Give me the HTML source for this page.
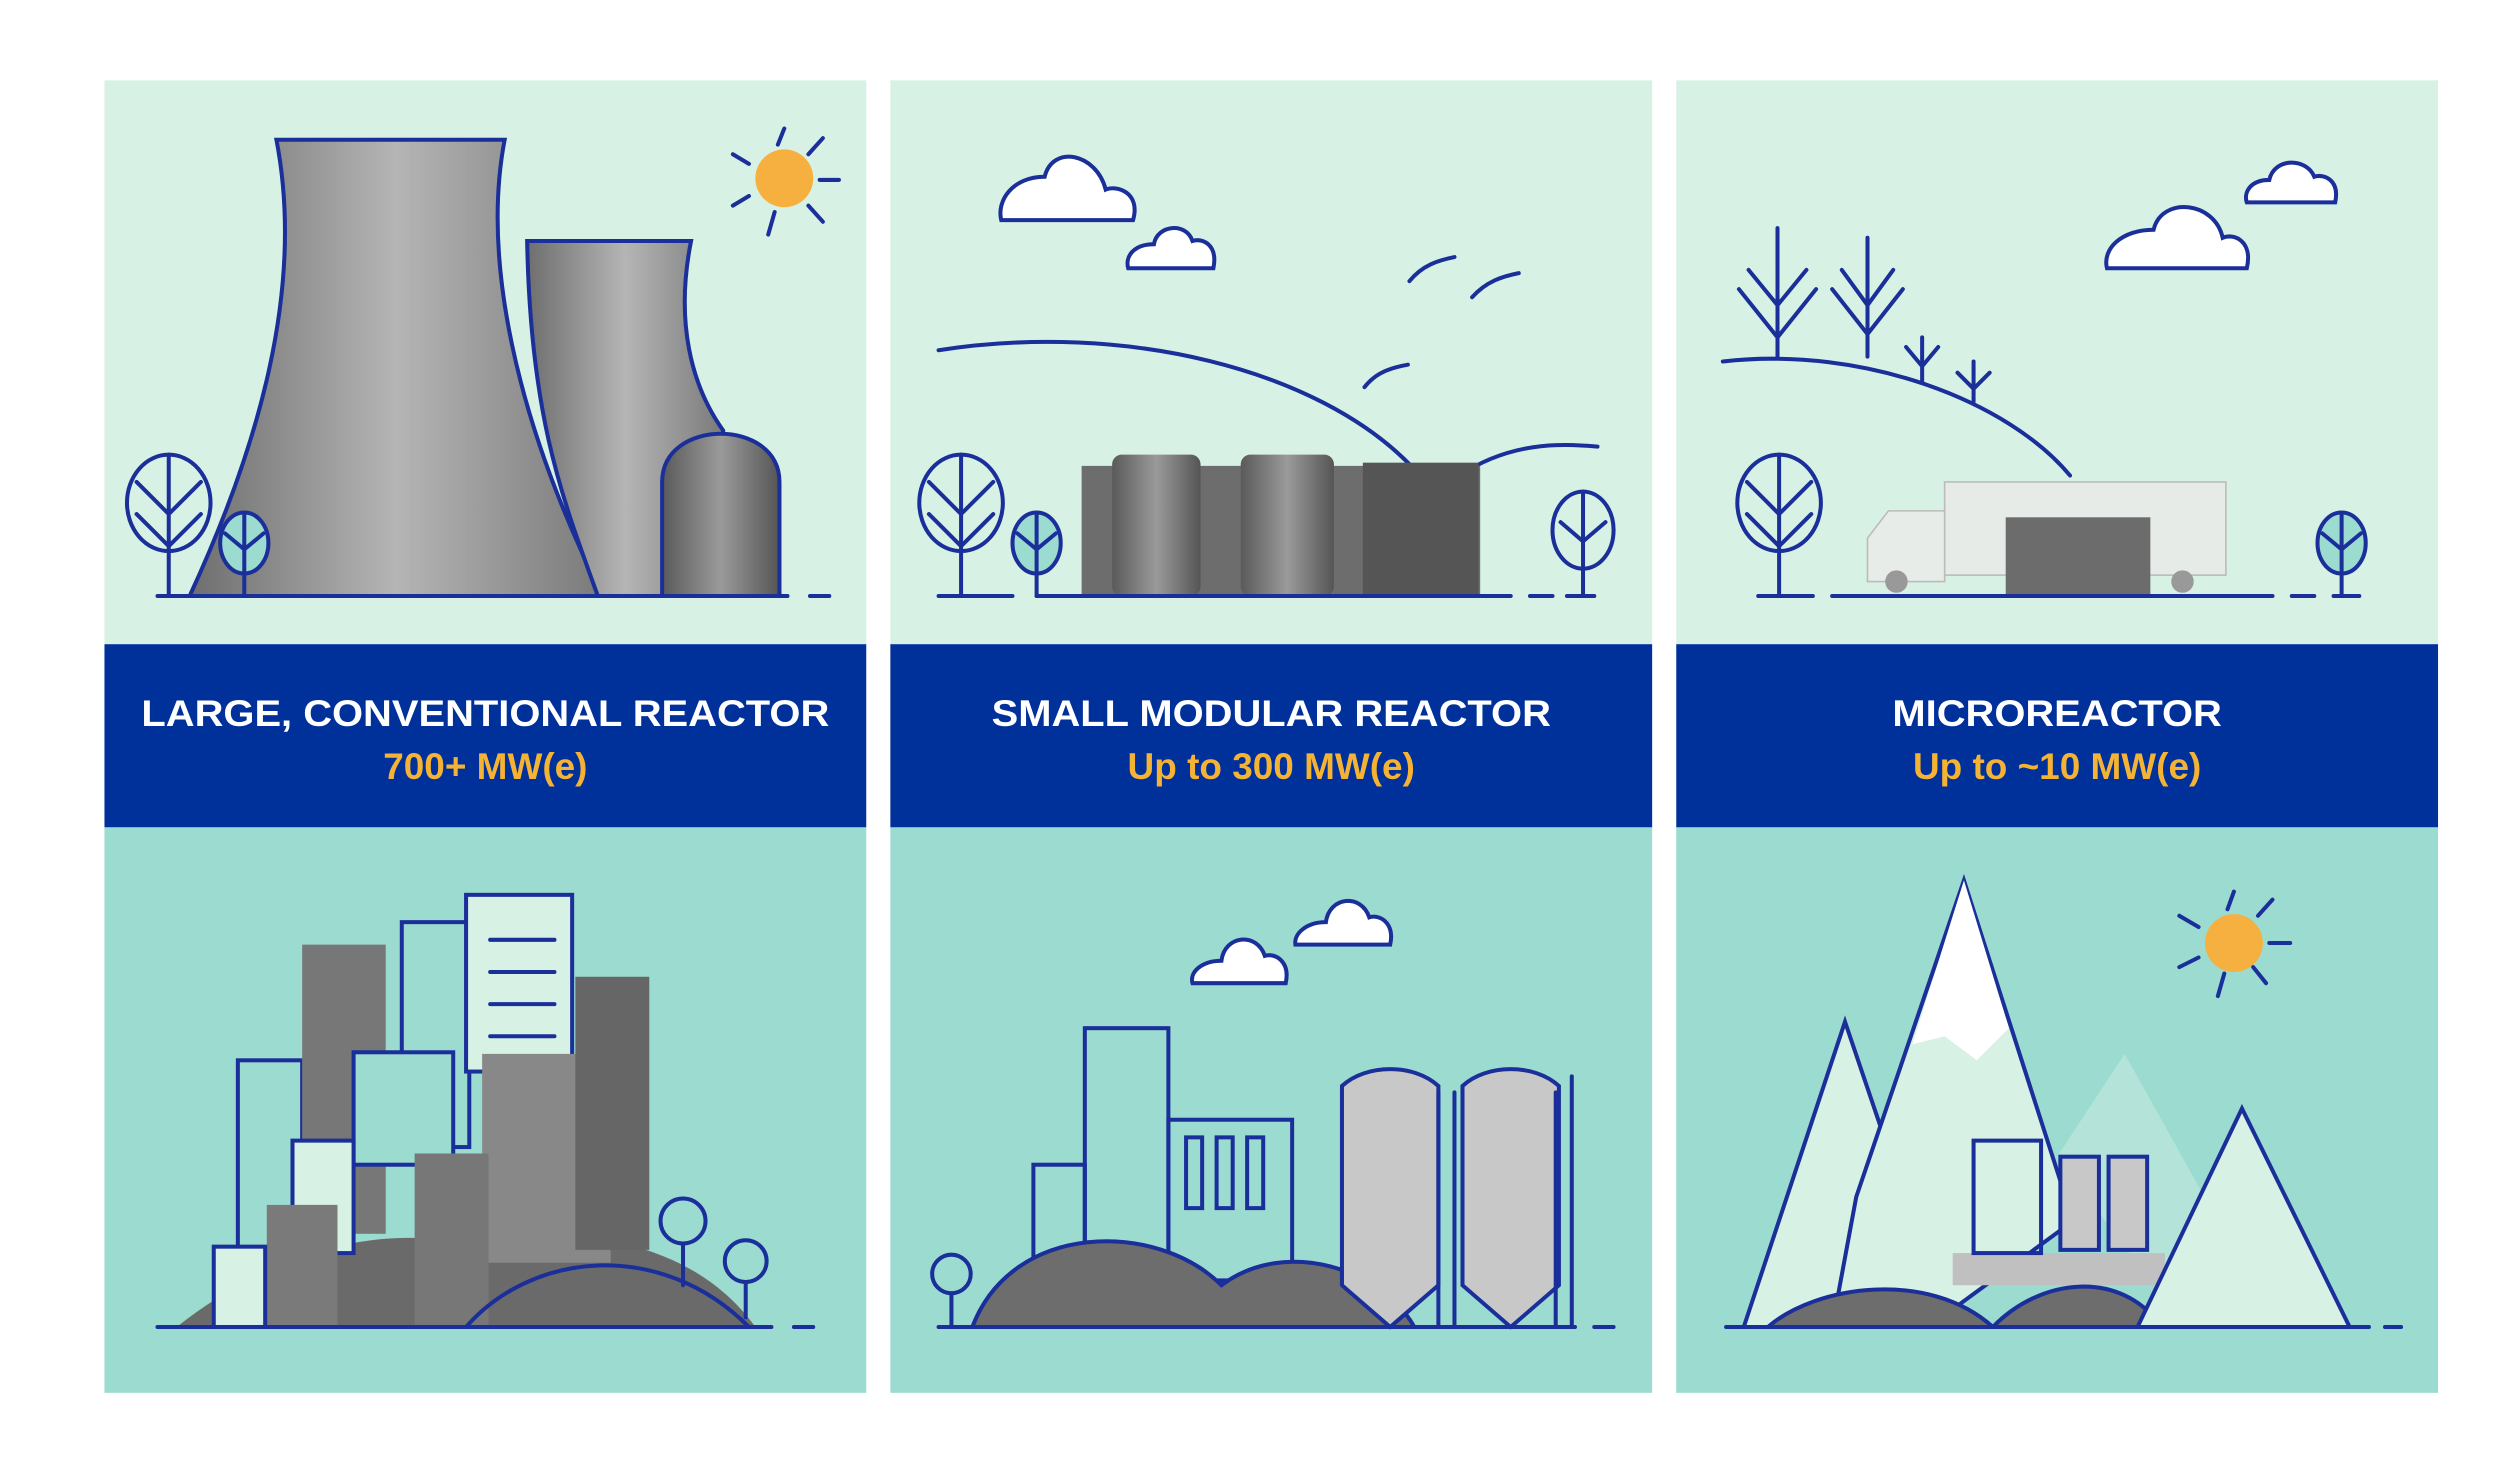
<!DOCTYPE html>
<html><head><meta charset="utf-8"><style>
html,body{margin:0;padding:0;background:#fff;}
svg{display:block}
</style></head><body>
<svg width="2520" height="1478" viewBox="0 0 1568 920" preserveAspectRatio="none" xmlns="http://www.w3.org/2000/svg">
<defs>
<linearGradient id="g1" x1="0" x2="1"><stop offset="0" stop-color="#6e6e6e"/><stop offset=".5" stop-color="#b5b5b5"/><stop offset="1" stop-color="#7a7a7a"/></linearGradient>
<linearGradient id="g2" x1="0" x2="1"><stop offset="0" stop-color="#5a5a5a"/><stop offset=".5" stop-color="#9a9a9a"/><stop offset="1" stop-color="#555"/></linearGradient>
</defs>
<rect width="1568" height="920" fill="#fff"/>
<!-- panels -->
<g>
<rect x="65" y="50" width="474" height="352" fill="#d8f1e5"/>
<rect x="554" y="50" width="474" height="352" fill="#d8f1e5"/>
<rect x="1043" y="50" width="474" height="352" fill="#d8f1e5"/>
<rect x="65" y="401" width="474" height="114" fill="#00309a"/>
<rect x="554" y="401" width="474" height="114" fill="#00309a"/>
<rect x="1043" y="401" width="474" height="114" fill="#00309a"/>
<rect x="65" y="515" width="474" height="352" fill="#9cdbd0"/>
<rect x="554" y="515" width="474" height="352" fill="#9cdbd0"/>
<rect x="1043" y="515" width="474" height="352" fill="#9cdbd0"/>
</g>
<g font-family="Liberation Sans, Arial, sans-serif" font-weight="bold" text-anchor="middle" font-size="23">
<text x="302" y="452" fill="#fff" textLength="428" lengthAdjust="spacingAndGlyphs">LARGE, CONVENTIONAL REACTOR</text>
<text x="302" y="485" fill="#f5b335">700+ MW(e)</text>
<text x="791" y="452" fill="#fff" textLength="348" lengthAdjust="spacingAndGlyphs">SMALL MODULAR REACTOR</text>
<text x="791" y="485" fill="#f5b335">Up to 300 MW(e)</text>
<text x="1280" y="452" fill="#fff" textLength="205" lengthAdjust="spacingAndGlyphs">MICROREACTOR</text>
<text x="1280" y="485" fill="#f5b335">Up to ~10 MW(e)</text>
</g>
<g stroke="#1a2f9a" stroke-width="2.5" fill="none" stroke-linecap="round">
<!-- panel1 top -->
<path d="M172,87 L314,87 C300,160 320,260 375,371 L118,371 C160,280 190,180 172,87Z" fill="url(#g1)"/>
<path d="M328,150 L430,150 C420,200 430,240 450,268 L440,371 L372,371 C350,310 330,260 328,150Z" fill="url(#g1)"/>
<path d="M412,371 L412,300 C412,260 485,260 485,300 L485,371Z" fill="url(#g2)"/>
<circle cx="488" cy="111" r="18" fill="#f5b03f" stroke="none"/>
<path d="M488,80 L484,90 M512,86 L503,96 M522,112 L510,112 M512,138 L503,128 M478,146 L482,132 M456,128 L466,122 M456,96 L466,102"/>
<path d="M98,371 L118,371 M133,371 L490,371 M504,371 L516,371"/>
<ellipse cx="105" cy="313" rx="26" ry="30"/><path d="M105,283 L105,371 M85,300 L105,320 L125,300 M85,320 L105,340 L125,320"/>
<ellipse cx="152" cy="338" rx="15" ry="19" fill="#9cdbd0"/><path d="M152,320 L152,371 M140,332 L152,342 L164,332"/>
<!-- panel2 top -->
<path d="M584,218 C700,200 820,230 878,290"/>
<path d="M908,296 C940,275 970,276 994,278"/>
<path d="M623,137 L705,137 C710,120 695,115 688,118 C682,95 655,90 650,110 C630,110 620,125 623,137Z" fill="#fff"/>
<path d="M702,167 L755,167 C758,152 748,148 742,150 C738,138 720,140 718,152 C705,152 700,160 702,167Z" fill="#fff"/>
<path d="M877,175 C885,165 895,162 905,160 M916,185 C925,175 935,172 945,170 M849,241 C856,232 865,229 876,227"/>
<rect x="673" y="290" width="248" height="81" fill="#6d6d6d" stroke="none"/>
<rect x="692" y="283" width="55" height="88" rx="6" fill="url(#g2)" stroke="none"/>
<rect x="772" y="283" width="58" height="88" rx="6" fill="url(#g2)" stroke="none"/>
<rect x="848" y="288" width="72" height="83" fill="#555" stroke="none"/>
<path d="M584,371 L630,371 M645,371 L940,371 M952,371 L966,371 M975,371 L992,371"/>
<ellipse cx="598" cy="313" rx="26" ry="30"/><path d="M598,283 L598,371 M578,300 L598,320 L618,300 M578,320 L598,340 L618,320"/>
<ellipse cx="645" cy="338" rx="15" ry="19" fill="#9cdbd0"/><path d="M645,320 L645,371 M633,332 L645,342 L657,332"/>
<ellipse cx="985" cy="330" rx="19" ry="24"/><path d="M985,306 L985,371 M971,325 L985,337 L999,325"/>
<!-- panel3 top -->
<path d="M1072,225 C1160,215 1250,250 1288,296"/>
<path d="M1106,142 L1106,222 M1082,180 L1106,210 L1130,180 M1088,168 L1106,190 L1124,168"/>
<path d="M1162,148 L1162,222 M1140,180 L1162,208 L1184,180 M1146,168 L1162,190 L1178,168"/>
<path d="M1196,210 L1196,238 M1186,216 L1196,228 L1206,216 M1228,225 L1228,250 M1218,232 L1228,242 L1238,232"/>
<path d="M1311,167 L1398,167 C1402,150 1390,145 1383,148 C1378,125 1345,122 1340,143 C1320,143 1308,155 1311,167Z" fill="#fff"/>
<path d="M1398,126 L1453,126 C1456,112 1446,108 1440,110 C1435,98 1415,98 1412,112 C1400,112 1396,120 1398,126Z" fill="#fff"/>
<rect x="1210" y="300" width="175" height="58" fill="#e6ebe8" stroke="#bbb" stroke-width="1"/>
<path d="M1162,355 L1162,335 L1175,318 L1210,318 L1210,362 L1162,362Z" fill="#e8ece9" stroke="#bbb" stroke-width="1"/>
<rect x="1248" y="322" width="90" height="49" fill="#6c6c6c" stroke="none"/>
<circle cx="1180" cy="362" r="7" fill="#999" stroke="none"/><circle cx="1358" cy="362" r="7" fill="#999" stroke="none"/>
<path d="M1094,371 L1128,371 M1140,371 L1414,371 M1426,371 L1440,371 M1452,371 L1468,371"/>
<ellipse cx="1107" cy="313" rx="26" ry="30"/><path d="M1107,283 L1107,371 M1087,300 L1107,320 L1127,300 M1087,320 L1107,340 L1127,320"/>
<ellipse cx="1457" cy="338" rx="15" ry="19" fill="#9cdbd0"/><path d="M1457,320 L1457,371 M1445,332 L1457,342 L1469,332"/>
<!-- panel1 bottom -->
<path d="M110,826 C180,770 260,760 300,780 C350,760 430,770 470,826Z" fill="#6a6a6a" stroke="none"/>
<rect x="148" y="660" width="40" height="160" fill="#9cdbd0"/>
<rect x="188" y="588" width="52" height="180" fill="#777" stroke="none"/>
<rect x="250" y="574" width="42" height="140"/>
<rect x="290" y="557" width="66" height="110" fill="#d8f1e5"/>
<rect x="220" y="655" width="62" height="70" fill="#9cdbd0"/>
<rect x="182" y="710" width="38" height="70" fill="#d8f1e5"/>
<rect x="300" y="656" width="80" height="130" fill="#888" stroke="none"/>
<rect x="358" y="608" width="46" height="170" fill="#666" stroke="none"/>
<rect x="166" y="750" width="44" height="76" fill="#7a7a7a" stroke="none"/>
<rect x="258" y="718" width="46" height="108" fill="#777" stroke="none"/>
<rect x="133" y="776" width="32" height="50" fill="#d8f1e5"/>
<path d="M305,585 L345,585 M305,605 L345,605 M305,625 L345,625 M305,645 L345,645"/>
<path d="M290,826 C330,780 410,770 466,826"/>
<circle cx="425" cy="760" r="14"/><path d="M425,774 L425,800"/>
<circle cx="464" cy="785" r="13"/><path d="M464,798 L464,820"/>
<path d="M98,826 L480,826 M494,826 L506,826"/>
<!-- panel2 bottom -->
<path d="M742,612 L800,612 C803,598 793,593 787,595 C782,580 762,582 760,598 C748,598 740,605 742,612Z" fill="#fff"/>
<path d="M806,588 L865,588 C868,574 858,569 852,571 C847,556 827,558 825,574 C813,574 805,581 806,588Z" fill="#fff"/>
<rect x="675" y="640" width="52" height="150"/>
<rect x="727" y="697" width="77" height="100"/>
<rect x="643" y="725" width="32" height="70"/>
<path d="M738,708 L738,752 L748,752 L748,708Z M757,708 L757,752 L767,752 L767,708Z M776,708 L776,752 L786,752 L786,708Z"/>
<path d="M605,826 C630,760 720,760 760,800 C800,770 860,790 880,826Z" fill="#6d6d6d"/>
<path d="M835,676 L835,800 L865,826 L895,800 L895,676 C880,662 850,662 835,676Z" fill="#c8c8c8"/>
<path d="M910,676 L910,800 L940,826 L970,800 L970,676 C955,662 925,662 910,676Z" fill="#c8c8c8"/>
<path d="M895,680 L895,826 M905,680 L905,826 M968,680 L968,826 M978,670 L978,826"/>
<circle cx="592" cy="793" r="12"/><path d="M592,805 L592,826"/>
<path d="M584,826 L980,826 M992,826 L1004,826"/>
<!-- panel3 bottom -->
<path d="M1085,826 L1148,636 L1190,760 L1190,826Z" fill="#d8f1e5"/>
<path d="M1280,720 L1322,656 L1380,760 L1340,800Z" fill="#b4e4d9" stroke="none"/>
<path d="M1155,745 L1222,548 L1290,760 L1200,826 L1140,826Z" fill="#d8f1e5"/>
<path d="M1190,650 L1222,548 L1250,640 L1230,660 L1210,645Z" fill="#fff" stroke="none"/>
<rect x="1215" y="780" width="132" height="20" fill="#c0c0c0" stroke="none"/>
<path d="M1100,826 C1130,800 1200,790 1240,826 M1240,826 C1270,795 1320,790 1345,826" fill="#6d6d6d"/>
<rect x="1228" y="710" width="42" height="70"/>
<rect x="1282" y="720" width="24" height="58" fill="#c8c8c8"/>
<rect x="1312" y="720" width="24" height="58" fill="#c8c8c8"/>
<path d="M1330,826 L1395,690 L1462,826Z" fill="#d8f1e5"/>
<circle cx="1390" cy="587" r="18" fill="#f5b03f" stroke="none"/>
<path d="M1390,555 L1386,566 M1414,560 L1405,570 M1425,587 L1412,587 M1410,612 L1402,602 M1380,620 L1384,606 M1356,602 L1368,596 M1356,570 L1368,577"/>
<path d="M1074,826 L1450,826 M1462,826 L1474,826 M1484,826 L1494,826"/>
</g>
</svg>
</body></html>
